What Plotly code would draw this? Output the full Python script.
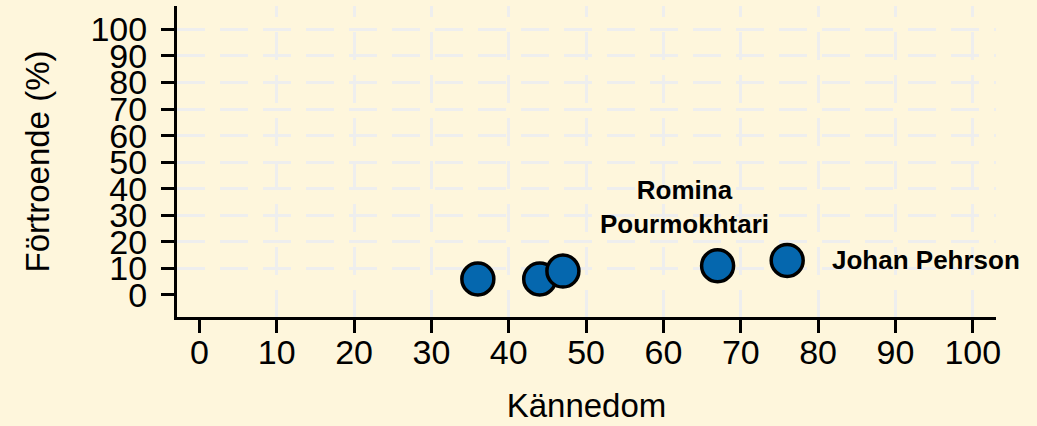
import plotly.graph_objects as go

# Data
kannedom = [36, 44, 47, 67, 76]          # x: Kännedom
fortroende = [6, 6, 9, 11, 13]          # y: Förtroende (%)
labels = ["", "", "", "Romina<br>Pourmokhtari", "Johan Pehrson"]
tick_vals = [0, 10, 20, 30, 40, 50, 60, 70, 80, 90, 100]
tick_text = [str(v) for v in tick_vals]

BG = "#fef6dc"
FONT = "Liberation Sans, Arial, sans-serif"

fig = go.Figure()
fig.add_trace(go.Scatter(
    x=kannedom, y=fortroende, mode="markers",
    marker=dict(size=32, color="#0567ae", line=dict(color="black", width=3.5)),
    hoverinfo="skip", showlegend=False,
))

# labels (repel-style offsets)
label_style = {
    "Romina<br>Pourmokhtari": dict(xanchor="center", yanchor="middle", xshift=-33, yshift=59),
    "Johan Pehrson": dict(xanchor="left", yanchor="middle", xshift=43, yshift=0),
}
for xv, yv, lab in zip(kannedom, fortroende, labels):
    if lab:
        fig.add_annotation(x=xv, y=yv, text="<b>" + lab + "</b>", showarrow=False,
                           font=dict(family=FONT, size=26, color="black"),
                           **label_style[lab])

vdash = "11px,15px," + ",".join(["28px,15px"] * 8)

fig.update_layout(
    width=1037, height=426,
    paper_bgcolor=BG, plot_bgcolor=BG,
    margin=dict(l=177, r=41, t=6, b=109),
    font=dict(family=FONT, color="black"),
    xaxis=dict(
        range=[-2.9, 103.0], tickmode="array", tickvals=tick_vals, ticktext=tick_text,
        showline=True, linecolor="black", linewidth=3,
        ticks="outside", ticklen=13, tickwidth=3, tickcolor="black",
        tickfont=dict(size=34, family=FONT, color="black"), ticklabelstandoff=-10,
        showgrid=True, gridcolor="#eeeeee", gridwidth=3, griddash=vdash,
        zeroline=True, zerolinecolor="rgba(0,0,0,0)", zerolinewidth=1,
        title=dict(text="Kännedom", font=dict(size=33, family=FONT, color="black"), standoff=25),
        fixedrange=True,
    ),
    yaxis=dict(
        range=[-8.3, 108.8], tickmode="array", tickvals=tick_vals, ticktext=tick_text,
        showline=True, linecolor="black", linewidth=3,
        ticks="outside", ticklen=13, tickwidth=3, tickcolor="black",
        tickfont=dict(size=34, family=FONT, color="black"), ticklabelstandoff=7,
        showgrid=True, gridcolor="#eeeeee", gridwidth=3, griddash="28px,15px",
        zeroline=True, zerolinecolor="rgba(0,0,0,0)", zerolinewidth=1,
        title=dict(text="Förtroende (%)", font=dict(size=33, family=FONT, color="black"), standoff=31),
        fixedrange=True,
    ),
)

fig.write_html("out.html", config={"displayModeBar": False},
               post_script="document.body.style.margin='0';document.body.style.overflow='hidden';")
